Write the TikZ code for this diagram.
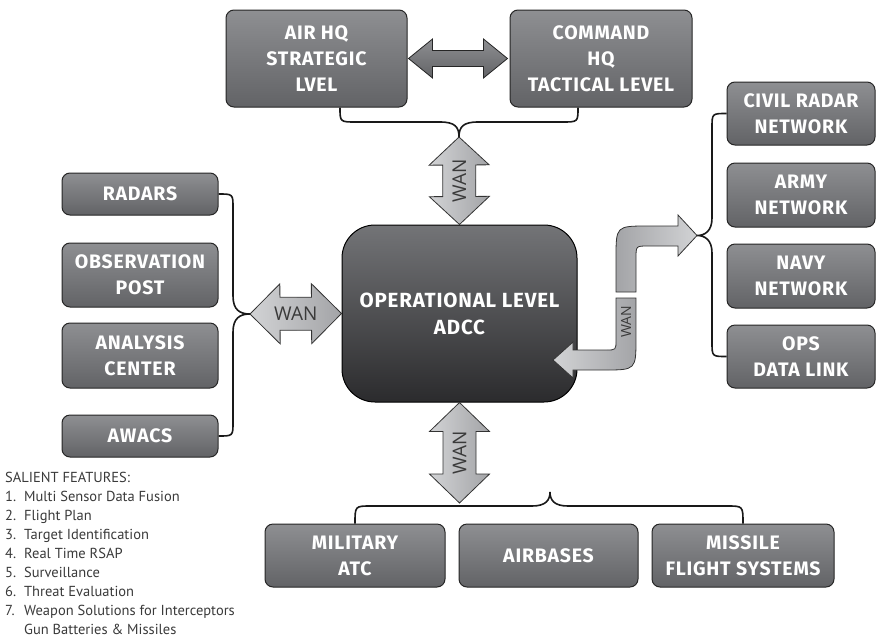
\documentclass[tikz,border=0pt]{standalone}
\usepackage{fontspec}
\setmainfont{PT Sans}
\newfontfamily\boxfont{Fira Sans}[LetterSpace=4]
\newfontfamily\wanfont{Open Sans}
\usepackage{tikz}
\usetikzlibrary{calc,positioning}
\definecolor{boxtop}{HTML}{8E8F92}
\definecolor{boxbot}{HTML}{626366}
\definecolor{hubtop}{HTML}{737477}
\definecolor{hubbot}{HTML}{2B2B2D}
\definecolor{wanlight}{HTML}{D2D3D5}
\definecolor{wandark}{HTML}{A3A4A7}
\definecolor{inktext}{HTML}{3A3A3A}

% fat double arrow: style, from, to, shaft half, head half, head length
\newcommand{\wanarrow}[6]{%
  \draw[#1] (#2)
    -- ($(#2)!#6!(#3)!#5!90:(#3)$)
    -- ($(#2)!#6!(#3)!#4!90:(#3)$)
    -- ($(#3)!#6!(#2)!#4!-90:(#2)$)
    -- ($(#3)!#6!(#2)!#5!-90:(#2)$)
    -- (#3)
    -- ($(#3)!#6!(#2)!#5!90:(#2)$)
    -- ($(#3)!#6!(#2)!#4!90:(#2)$)
    -- ($(#2)!#6!(#3)!#4!-90:(#3)$)
    -- ($(#2)!#6!(#3)!#5!-90:(#3)$)
    -- cycle;}

\begin{document}
\begin{tikzpicture}[x=1pt,y=-1pt,
    unit/.style={draw=black!85, line width=1pt, rounded corners=8pt,
      top color=boxtop, bottom color=boxbot, text=white, align=center,
      inner sep=0pt, font=\boxfont\fontsize{19.5}{26}\selectfont\bfseries},
    hub/.style={draw=black, line width=1pt, rounded corners=33pt,
      top color=hubtop, bottom color=hubbot, text=white, align=center,
      minimum width=235pt, minimum height=177pt,
      font=\boxfont\fontsize{20.5}{27}\selectfont\bfseries},
    brace/.style={draw=black!90, line width=1.6pt},
    wanbody/.style={draw=black!80, line width=0.8pt,
      left color=wanlight, right color=wandark},
    linkbody/.style={draw=black!85, line width=0.8pt,
      top color=boxtop, bottom color=boxbot},
    wanlabel/.style={text=inktext, inner sep=0pt,
      font=\wanfont\fontsize{19}{20}\selectfont}]
  \useasboundingbox (0,0) rectangle (877,640);

  % top level
  \node[unit, minimum width=181pt, minimum height=97pt] (airhq) at (316.5,58.5) {AIR HQ\\STRATEGIC\\LVEL};
  \node[unit, minimum width=182pt, minimum height=97pt] (cmdhq) at (601,58.5) {COMMAND\\HQ\\TACTICAL LEVEL};

  % centre
  \node[hub] (adcc) at (459.5,313.5) {OPERATIONAL LEVEL\\ADCC};

  % sensors (left)
  \node[unit, minimum width=156pt, minimum height=42pt] (radars) at (140,194) {RADARS};
  \node[unit, minimum width=156pt, minimum height=64pt] (obspost) at (140,275) {OBSERVATION\\POST};
  \node[unit, minimum width=156pt, minimum height=65pt] (analysis) at (140,355.5) {ANALYSIS\\CENTER};
  \node[unit, minimum width=156pt, minimum height=42pt] (awacs) at (140,436) {AWACS};

  % networks (right)
  \node[unit, minimum width=148pt, minimum height=63pt] (civil) at (801,113.5) {CIVIL RADAR\\NETWORK};
  \node[unit, minimum width=148pt, minimum height=64pt] (army) at (801,195) {ARMY\\NETWORK};
  \node[unit, minimum width=148pt, minimum height=64pt] (navy) at (801,276) {NAVY\\NETWORK};
  \node[unit, minimum width=148pt, minimum height=63pt] (opslink) at (801,356.5) {OPS\\DATA LINK};

  % users (bottom)
  \node[unit, minimum width=180pt, minimum height=63pt] (milatc) at (355,555.5) {MILITARY\\ATC};
  \node[unit, minimum width=179pt, minimum height=63pt] (airbases) at (548.5,555.5) {AIRBASES};
  \node[unit, minimum width=182pt, minimum height=63pt] (missile) at (743,555.5) {MISSILE\\FLIGHT SYSTEMS};

  % brace points
  \coordinate (topbr) at (459,137);
  \coordinate (leftbr) at (250,314);
  \coordinate (rightbr) at (697,235.5);
  \coordinate (botbr) at (550,492);
  \coordinate (botbar) at (459.5,503);
  \coordinate (airfoot) at ([xshift=23.5pt]airhq.south);
  \coordinate (cmdfoot) at ([xshift=-23pt]cmdhq.south);
  \coordinate (airside) at ([xshift=1pt]airhq.east);
  \coordinate (cmdside) at ([xshift=-2pt]cmdhq.west);
  \coordinate (hubport) at (553,360);

  % braces
  \draw[brace] (airfoot) .. controls (340,122) .. (356,122) -- (440,122)
    .. controls (455,122) and (459,127) .. (topbr)
    .. controls (459,127) and (463,122) .. (478,122) -- (562,122)
    .. controls (578,122) .. (cmdfoot);
  \draw[brace] (radars.east) .. controls (233,194) .. (233,208) -- (233,296)
    .. controls (233,310) and (240,314) .. (leftbr)
    .. controls (240,314) and (233,318) .. (233,332) -- (233,422)
    .. controls (233,436) .. (awacs.east);
  \draw[brace] (civil.west) .. controls (712,113.5) .. (712,128) -- (712,218)
    .. controls (712,231) and (705,235.5) .. (rightbr)
    .. controls (705,235.5) and (712,240) .. (712,253) -- (712,342)
    .. controls (712,356.5) .. (opslink.west);
  \draw[brace] (milatc.north) .. controls (355,506) .. (371,506) -- (532,506)
    .. controls (546,506) and (550,500) .. (botbr)
    .. controls (550,500) and (554,506) .. (568,506) -- (727,506)
    .. controls (743,506) .. (missile.north);

  % fat arrows
  \wanarrow{linkbody}{airside}{cmdside}{8pt}{19.5pt}{24pt}
  \wanarrow{wanbody}{topbr}{adcc.north}{16.5pt}{30pt}{28pt}
  \wanarrow{wanbody}{leftbr}{adcc.west}{16.5pt}{30pt}{30pt}
  \wanarrow{wanbody}{adcc.south}{botbar}{16.5pt}{30pt}{29pt}

  % bent link to the networks
  \draw[wanbody, left color=wandark, right color=wanlight] (616,292) -- (616,258)
    .. controls (616,226) .. (648,226) -- (678,226) -- (678,215) -- (rightbr)
    -- (678,256) -- (678,246) -- (648,246) .. controls (636,246) .. (636,258)
    -- (636,292) -- cycle;
  \draw[wanbody, left color=wanlight, right color=wandark] (616,298) -- (616,340)
    .. controls (616,350) .. (606,350) -- (573,350) -- (573,342) -- (hubport)
    -- (573,378) -- (573,370) -- (604,370) .. controls (636,370) .. (636,338)
    -- (636,298) -- cycle;

  % labels
  \node[wanlabel, rotate=90] (wantop) at ($(topbr)!0.5!(adcc.north)$) {WAN};
  \node[wanlabel] (wanleft) at ($(leftbr)!0.5!(adcc.west)$) {WAN};
  \node[wanlabel, rotate=90] (wanbot) at ($(adcc.south)!0.5!(botbar)$) {WAN};
  \node[wanlabel, rotate=90, font=\wanfont\fontsize{14}{14}\selectfont] (wanside) at (626,322) {WAN};

  % salient features
  \node[anchor=north west, text=inktext, inner sep=0pt,
        font=\fontsize{14.5}{19}\selectfont] (features) at (5,469) {%
    \begin{tabular}{@{}l@{\hspace{8pt}}l@{}}
      \multicolumn{2}{@{}l}{SALIENT FEATURES:}\\
      1. & Multi Sensor Data Fusion\\
      2. & Flight Plan\\
      3. & Target Identification\\
      4. & Real Time RSAP\\
      5. & Surveillance\\
      6. & Threat Evaluation\\
      7. & Weapon Solutions for Interceptors\\
         & Gun Batteries \& Missiles
    \end{tabular}};
\end{tikzpicture}
\end{document}
